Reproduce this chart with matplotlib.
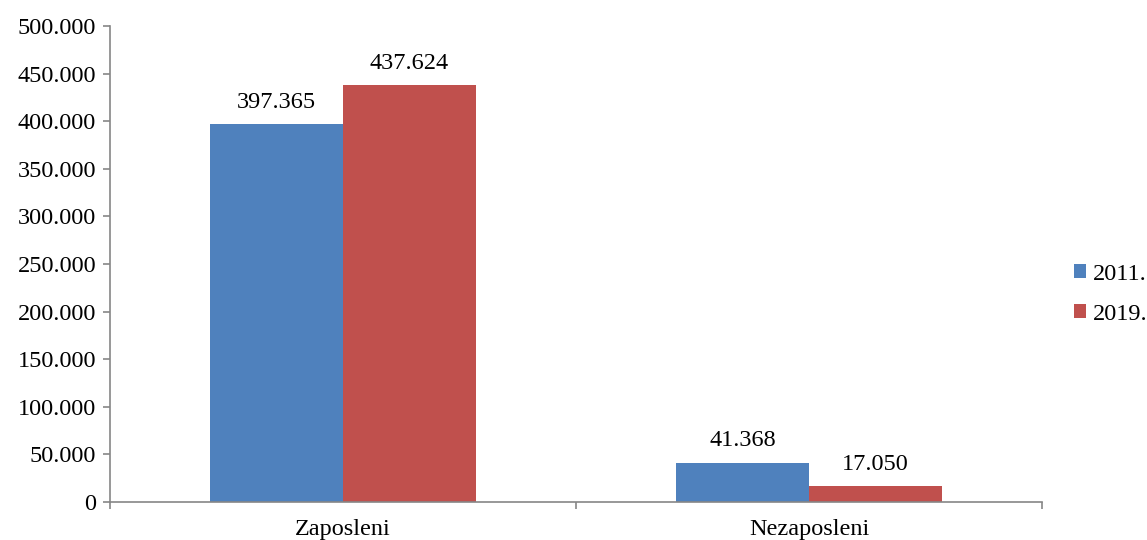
import numpy as np
import matplotlib
matplotlib.use('Agg')
import matplotlib.pyplot as plt
from matplotlib.patches import Patch

categories = ['Zaposleni', 'Nezaposleni']
series_names = ['2011.', '2019.']
values_2011 = [397365, 41368]
values_2019 = [437624, 17050]
labels_2011 = ['397.365', '41.368']
labels_2019 = ['437.624', '17.050']
y_ticks = [0, 50000, 100000, 150000, 200000, 250000, 300000, 350000, 400000, 450000, 500000]

plt.rcParams['font.family'] = ['Liberation Serif', 'DejaVu Serif']

blue = '#4F81BD'
red = '#C0504D'
axis_gray = '#868686'
fs = 17.5

fig = plt.figure(figsize=(11.47, 5.4), dpi=100)
ax = fig.add_axes([0.0959, 0.0704, 0.8125, 0.8815])

x = np.arange(len(categories)) + 0.5
w = 0.285

b1 = ax.bar(x - w / 2, values_2011, width=w, color=blue)
b2 = ax.bar(x + w / 2, values_2019, width=w, color=red)

# data labels above each bar
for bars, labs in ((b1, labels_2011), (b2, labels_2019)):
    for bar, lab in zip(bars, labs):
        ax.annotate(lab, (bar.get_x() + bar.get_width() / 2, bar.get_height()),
                    xytext=(0, 8), textcoords='offset points',
                    ha='center', va='bottom', fontsize=fs)

ax.set_xlim(0, 2)
ax.set_ylim(0, 500000)
ax.set_yticks(y_ticks)
ax.set_yticklabels(['0' if v == 0 else f'{v // 1000}.000' for v in y_ticks])

ax.set_xticks([0, 1, 2])
ax.set_xticklabels([])
ax.set_xticks(x, minor=True)
ax.set_xticklabels(categories, minor=True)
ax.tick_params(axis='x', which='minor', length=0, pad=12, labelsize=fs)
ax.tick_params(axis='x', which='major', length=5, color=axis_gray, width=1.2)
ax.tick_params(axis='y', length=5, color=axis_gray, width=1.2, labelsize=fs, pad=5)

for s in ('top', 'right'):
    ax.spines[s].set_visible(False)
for s in ('left', 'bottom'):
    ax.spines[s].set_color(axis_gray)
    ax.spines[s].set_linewidth(1.2)

handles = [Patch(facecolor=blue, label=series_names[0]),
           Patch(facecolor=red, label=series_names[1])]
fig.legend(handles=handles, loc='center left', bbox_to_anchor=(0.936, 0.455),
           frameon=False, fontsize=fs, handlelength=0.5, handleheight=0.5,
           handletextpad=0.3, labelspacing=0.8, borderpad=0, borderaxespad=0)

plt.savefig('out.png', dpi=100)
